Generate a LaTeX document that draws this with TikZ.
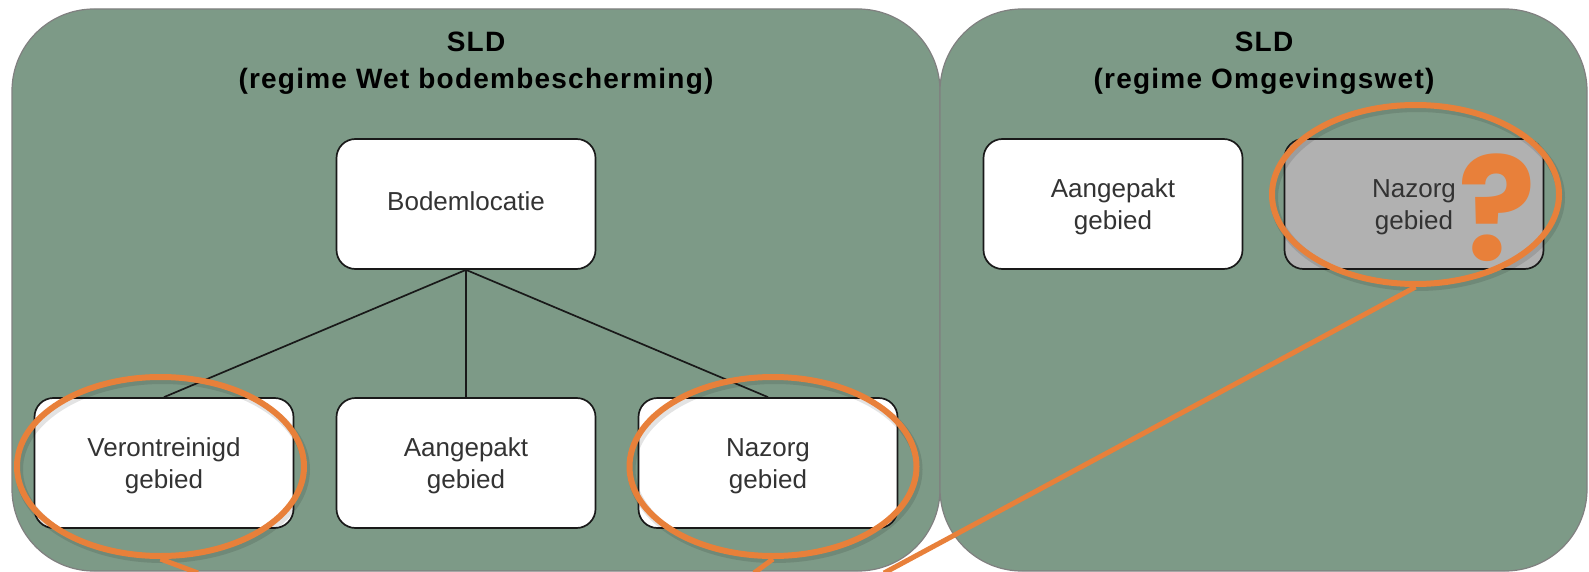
\documentclass[tikz,border=0pt]{standalone}
\usepackage{fontspec}
\setmainfont{Liberation Sans}
\newfontfamily\markfont{Poppins}
\newcommand{\firstrow}{\rule{0pt}{25pt}}
\definecolor{panelgreen}{HTML}{7D9A87}
\definecolor{mark}{HTML}{E8803A}
\definecolor{boxgrey}{HTML}{B1B1B1}
\definecolor{ink}{HTML}{333333}
\usetikzlibrary{shapes.geometric}
\tikzset{
  panel/.style={draw=black!50,line width=1.2pt,fill=panelgreen,rounded corners=82pt},
  title/.style={font=\fontsize{28}{37}\selectfont\bfseries\addfontfeature{LetterSpace=4.4},align=center,text=black,inner sep=0pt},
  boxnode/.style={draw=black!90,line width=1.7pt,fill=white,rounded corners=19pt,minimum width=259pt,minimum height=130pt,inner sep=0pt,align=center,text=ink,font=\fontsize{26}{32}\selectfont},
  oneline/.style={text depth=5pt},
  greybox/.style={boxnode,fill=boxgrey},
  edge/.style={draw=black!90,line width=1.7pt},
  ring/.style={ellipse,draw=mark,line width=6pt,minimum width=287pt,minimum height=179pt,inner sep=0pt},
  ringshadow/.style={ellipse,draw=black,opacity=.11,line width=8pt,minimum width=287pt,minimum height=179pt,inner sep=0pt},
  callout/.style={draw=mark,line width=5pt},
}
\begin{document}
\begin{tikzpicture}[x=1pt,y=-1pt]
\useasboundingbox (0,0) rectangle (1589,572);
\fill[white] (0,0) rectangle (1589,572);
\begin{scope}
\clip (0,0) rectangle (1589,572);
\draw[panel] (12,9) rectangle (940,571);
\draw[panel] (940,9) rectangle (1587,571);
\node[title] (t1) at (476,63) {SLD\\(regime Wet bodembescherming)};
\node[title] (t2) at (1264,63) {SLD\\(regime Omgevingswet)};

\node[boxnode,oneline] (root) at (466,204) {Bodemlocatie};
\node[boxnode] (a) at (164,463) {\firstrow Verontreinigd\\gebied};
\node[boxnode] (b) at (466,463) {\firstrow Aangepakt\\gebied};
\node[boxnode] (c) at (768,463) {\firstrow Nazorg\\gebied};
\node[boxnode] (d) at (1113,204) {\firstrow Aangepakt\\gebied};
\node[greybox] (e) at (1414,204) {\firstrow Nazorg\\gebied};
\draw[edge] (root.south) -- (a.north);
\draw[edge] (root.south) -- (b.north);
\draw[edge] (root.south) -- (c.north);

\node[font=\markfont\fontsize{144}{144}\selectfont\bfseries,text=mark,inner sep=0pt] (q) at (1497,208) {?};

\coordinate (ra) at (160.5,466.5);
\coordinate (rb) at (773,466.5);
\coordinate (rc) at (1415.5,194.5);
\coordinate (enda) at (198,573);
\coordinate (endb) at (754,573);
\coordinate (endc) at (884,573);
\node[ringshadow] (sa) at ([shift={(2,3)}]ra) {};
\node[ringshadow] (sb) at ([shift={(2,3)}]rb) {};
\node[ringshadow] (sc) at ([shift={(2,3)}]rc) {};
\node[ring] (ea) at (ra) {};
\node[ring] (eb) at (rb) {};
\node[ring] (ec) at (rc) {};
\draw[callout] (ea.south) -- (enda);
\draw[callout] (eb.south) -- (endb);
\draw[callout] (ec.south) -- (endc);
\end{scope}
\end{tikzpicture}
\end{document}
